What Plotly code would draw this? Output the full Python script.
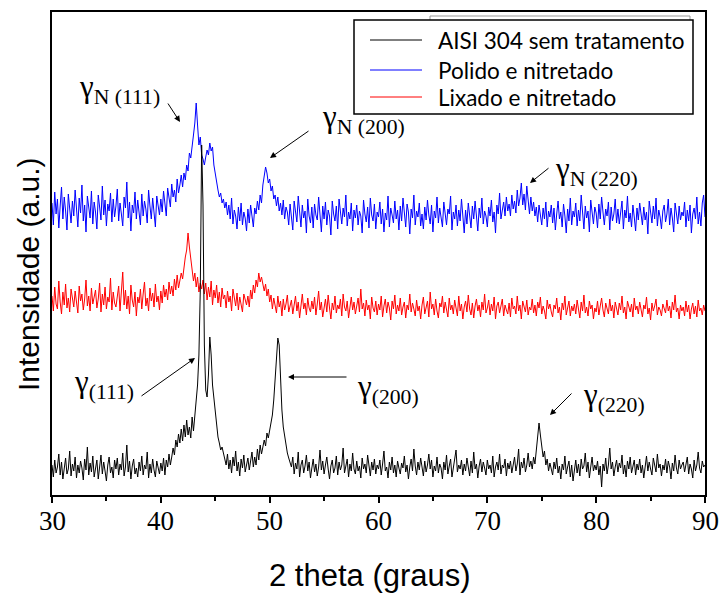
import numpy as np
import plotly.graph_objects as go

# ---------------- data ----------------
# sampling grid of the diffractograms (2 theta, degrees)
two_theta = np.round(np.arange(30, 90.0001, 0.125), 3)

series_names = ["AISI 304 sem tratamento", "Polido e nitretado", "Lixado e nitretado"]
series_colors = ["#000000", "#0000ff", "#ff0000"]

aisi_304 = [
    30, 18, 35, 22, 28, 41, 20, 33, 16, 29, 37, 21, 26, 44, 19, 31,
    24, 38, 17, 30, 22, 34, 27, 15, 36, 25, 48, 20, 32, 23, 39, 18,
    29, 35, 16, 27, 40, 21, 33, 24, 14, 30, 38, 22, 28, 17, 35, 26,
    37, 20, 31, 25, 42, 19, 28, 50, 23, 34, 16, 29, 36, 21, 27, 18,
    33, 24, 39, 20, 30, 26, 43, 17, 31, 22, 36, 25, 18, 34, 28, 21,
    32, 24, 37, 20, 35, 28, 41, 30, 38, 47, 40, 55, 48, 61, 52, 66,
    54, 70, 58, 75, 60, 68, 57, 78, 64, 82, 95, 110, 140, 205, 350, 290,
    150, 105, 98, 120, 158, 140, 110, 95, 80, 70, 58, 52, 45, 48, 40, 36,
    30, 41, 26, 35, 22, 38, 29, 44, 24, 33, 19, 36, 27, 40, 23, 31,
    37, 25, 34, 43, 28, 38, 30, 46, 35, 50, 41, 47, 55, 49, 62, 57,
    66, 72, 80, 95, 115, 140, 157, 150, 110, 85, 68, 58, 48, 42, 37, 33,
    28, 38, 21, 32, 26, 43, 18, 30, 35, 22, 29, 40, 24, 33, 17, 27,
    36, 23, 31, 19, 28, 45, 25, 34, 21, 30, 38, 26, 16, 29, 35, 22,
    27, 39, 20, 33, 25, 30, 47, 22, 28, 36, 18, 31, 24, 42, 26, 21,
    34, 24, 29, 17, 37, 26, 31, 22, 40, 28, 19, 33, 25, 36, 21, 30,
    26, 35, 20, 31, 44, 24, 28, 17, 33, 25, 38, 22, 30, 18, 34, 27,
    21, 32, 27, 39, 23, 30, 16, 28, 36, 24, 46, 29, 20, 33, 25, 37,
    28, 19, 34, 23, 30, 41, 26, 35, 18, 29, 24, 38, 22, 31, 27, 16,
    33, 25, 40, 21, 29, 36, 18, 27, 32, 45, 23, 30, 26, 35, 20, 31,
    24, 37, 28, 19, 34, 22, 43, 26, 31, 17, 29, 36, 23, 33, 27, 20,
    35, 26, 30, 22, 39, 18, 28, 33, 25, 41, 21, 30, 27, 36, 19, 32,
    26, 34, 22, 29, 38, 24, 31, 46, 20, 33, 27, 37, 23, 30, 42, 28,
    34, 26, 38, 31, 44, 62, 72, 60, 46, 38, 44, 30, 36, 24, 32, 27,
    20, 33, 26, 37, 22, 29, 16, 31, 25, 39, 21, 28, 34, 18, 30, 14,
    27, 35, 22, 31, 19, 36, 26, 29, 42, 23, 33, 17, 28, 38, 24, 30,
    25, 34, 20, 29, 8, 31, 24, 37, 21, 30, 47, 26, 33, 19, 28, 35,
    23, 32, 27, 40, 21, 30, 18, 34, 26, 38, 22, 29, 35, 20, 31, 25,
    36, 22, 30, 17, 28, 39, 24, 33, 26, 20, 37, 29, 23, 41, 27, 31,
    19, 30, 25, 36, 22, 34, 28, 16, 32, 24, 40, 27, 21, 35, 26, 30,
    33, 23, 29, 38, 21, 31, 26, 17, 35, 24, 30, 43, 27, 22, 34, 28,
    30,
]

polido_nitretado = [
    292, 270, 303, 281, 296, 267, 289, 308, 276, 298, 284, 265, 301, 287, 272, 294,
    279, 305, 285, 268, 297, 282, 310, 274, 290, 263, 299, 286, 277, 304, 271, 293,
    283, 266, 300, 288, 275, 309, 280, 295, 269, 291, 284, 302, 273, 296, 278, 289,
    306, 274, 292, 281, 269, 298, 287, 313, 277, 293, 264, 290, 282, 303, 276, 295,
    285, 270, 301, 279, 294, 286, 272, 305, 289, 276, 297, 283, 268, 299, 291, 280,
    296, 283, 304, 290, 279, 307, 295, 288, 311, 298, 305, 293, 316, 302, 310, 320,
    308, 322, 315, 330, 324, 342, 337, 352, 360, 372, 392, 370, 350, 358, 340, 336,
    330, 338, 345, 340, 352, 344, 348, 330, 320, 312, 305, 298, 302, 292, 296, 287,
    293, 280, 290, 276, 297, 271, 285, 279, 266, 288, 274, 292, 270, 283, 277, 264,
    286, 272, 290, 279, 268, 287, 281, 294, 285, 300, 292, 310, 318, 328, 322, 312,
    316, 304, 309, 296, 300, 289, 298, 284, 292, 280, 295, 276, 288, 283, 270, 291,
    278, 265, 294, 281, 273, 299, 286, 268, 290, 277, 284, 262, 296, 279, 272, 288,
    267, 291, 280, 275, 298, 284, 263, 289, 276, 293, 270, 285, 279, 260, 294, 281,
    274, 289, 266, 296, 282, 271, 287, 278, 300, 269, 283, 276, 292, 264, 285, 277,
    290, 270, 284, 279, 262, 295, 281, 273, 288, 267, 297, 280, 274, 291, 266, 283,
    278, 293, 271, 286, 263, 282, 275, 299, 268, 287, 280, 272, 294, 276, 285, 265,
    289, 274, 297, 279, 268, 291, 283, 261, 286, 277, 300, 270, 284, 278, 292, 269,
    281, 266, 288, 275, 295, 280, 271, 290, 263, 284, 277, 298, 272, 287, 279, 268,
    293, 278, 270, 286, 281, 299, 265, 283, 276, 290, 269, 285, 274, 296, 279, 262,
    285, 271, 292, 280, 267, 289, 276, 294, 282, 264, 287, 277, 297, 271, 284, 279,
    268, 288, 279, 295, 273, 283, 262, 290, 281, 302, 276, 286, 293, 279, 298, 284,
    291, 279, 300, 286, 294, 282, 305, 289, 297, 312, 290, 301, 285, 309, 293, 281,
    298, 284, 293, 279, 288, 273, 290, 281, 270, 287, 276, 293, 268, 284, 278, 290,
    272, 287, 265, 281, 294, 276, 283, 268, 291, 279, 262, 286, 274, 297, 270, 284,
    278, 292, 269, 285, 274, 300, 280, 266, 289, 277, 284, 263, 295, 279, 271, 288,
    282, 267, 291, 276, 298, 283, 270, 286, 279, 293, 265, 288, 274, 281, 296, 272,
    286, 271, 280, 294, 266, 285, 277, 299, 273, 282, 268, 290, 278, 264, 287, 275,
    292, 279, 270, 288, 275, 283, 261, 294, 281, 272, 289, 276, 297, 269, 285, 278,
    266, 284, 290, 273, 281, 296, 270, 287, 277, 263, 292, 280, 271, 289, 275, 283,
    279, 293, 268, 285, 274, 290, 262, 281, 287, 276, 298, 271, 283, 269, 292, 300,
    278,
]

lixado_nitretado = [
    199, 184, 208, 191, 186, 214, 193, 181, 203, 190, 211, 187, 197, 183, 206, 195,
    188, 204, 192, 182, 209, 194, 201, 185, 196, 215, 189, 199, 184, 207, 191, 200,
    205, 187, 196, 212, 183, 201, 190, 208, 186, 198, 193, 217, 185, 203, 192, 188,
    197, 209, 184, 200, 223, 190, 205, 186, 199, 181, 210, 195, 188, 203, 179, 198,
    192, 206, 186, 201, 213, 189, 197, 184, 207, 194, 202, 188, 211, 193, 199, 185,
    204, 192, 210, 198, 206, 195, 213, 201, 209, 199, 216, 205, 220, 207, 214, 222,
    216, 230, 238, 245, 262, 248, 235, 226, 214, 222, 208, 218, 203, 212, 206, 215,
    201, 212, 195, 208, 198, 214, 190, 205, 197, 210, 192, 203, 188, 207, 196, 200,
    187, 204, 193, 199, 184, 206, 195, 189, 202, 185, 198, 192, 183, 201, 194, 190,
    199, 188, 205, 196, 210, 202, 215, 208, 222, 213, 218, 209, 204, 211, 199, 206,
    193, 200, 186, 197, 190, 182, 199, 188, 194, 179, 196, 185, 191, 200, 183, 189,
    195, 181, 190, 199, 184, 193, 177, 188, 201, 186, 192, 180, 197, 187, 183, 194,
    186, 198, 180, 191, 204, 185, 193, 178, 189, 196, 183, 200, 187, 176, 192, 185,
    199, 182, 190, 186, 196, 179, 201, 188, 184, 194, 177, 190, 198, 185, 193, 181,
    188, 197, 183, 206, 186, 192, 179, 195, 185, 190, 176, 198, 187, 183, 194, 180,
    191, 185, 199, 178, 189, 196, 182, 193, 187, 175, 194, 186, 200, 181, 190, 184,
    197, 180, 188, 193, 177, 190, 185, 201, 183, 192, 186, 179, 195, 184, 189, 176,
    190, 198, 181, 187, 194, 178, 203, 186, 191, 180, 196, 184, 177, 192, 188, 199,
    182, 193, 186, 178, 197, 185, 190, 181, 195, 187, 179, 199, 184, 191, 176, 188,
    194, 183, 200, 186, 180, 192, 177, 189, 196, 184, 190, 178, 193, 185, 201, 182,
    187, 195, 180, 191, 184, 198, 176, 189, 193, 182, 188, 196, 179, 190, 185, 181,
    192, 178, 197, 186, 189, 181, 199, 184, 190, 176, 194, 187, 183, 195, 180, 188,
    185, 196, 182, 190, 179, 193, 187, 198, 181, 189, 184, 176, 195, 186, 191, 183,
    178, 190, 186, 197, 182, 188, 175, 192, 185, 199, 180, 187, 194, 179, 189, 184,
    191, 181, 195, 186, 177, 193, 184, 200, 182, 188, 179, 194, 186, 190, 176, 187,
    183, 194, 180, 189, 197, 185, 178, 192, 186, 181, 196, 184, 190, 177, 193, 187,
    180, 192, 185, 199, 182, 188, 176, 194, 187, 183, 191, 178, 197, 185, 189, 181,
    193, 184, 178, 190, 186, 198, 181, 187, 175, 192, 184, 189, 196, 180, 188, 185,
    179, 191, 186, 182, 195, 184, 189, 177, 193, 185, 200, 183, 187, 176, 190, 184,
    188, 179, 194, 183, 190, 176, 186, 192, 181, 189, 178, 195, 184, 187, 180, 190,
    184,
]

x_ticks = [30, 40, 50, 60, 70, 80, 90]
x_tick_labels = ["30", "40", "50", "60", "70", "80", "90"]

peak_labels = ["γ<sub>N (111)</sub>", "γ<sub>N (200)</sub>", "γ<sub>N (220)</sub>",
               "γ<sub>(111)</sub>", "γ<sub>(200)</sub>", "γ<sub>(220)</sub>"]

# ---------------- layout geometry (pixels) ----------------
W, H = 721, 594
L, R, T, B = 52, 705, 12, 495
XMIN, XMAX = 30, 90
YMAX = B - T


def px_x(px):
    return XMIN + (px - L) * (XMAX - XMIN) / (R - L)


def px_y(py):
    return (B - py)


def pap_x(px):
    return (px - L) / (R - L)


def pap_y(py):
    return (B - py) / (B - T)


fig = go.Figure()
for name, col, vals in [(series_names[1], series_colors[1], polido_nitretado),
                        (series_names[2], series_colors[2], lixado_nitretado),
                        (series_names[0], series_colors[0], aisi_304)]:
    fig.add_trace(go.Scatter(x=two_theta, y=vals, mode="lines", name=name,
                             line=dict(color=col, width=1), showlegend=False))

serif = "Liberation Serif"
annotations = []
# peak labels: (left px, middle px)
label_pos = [(77, 89), (320, 119), (553, 171), (72, 384), (355, 389), (581, 397)]
for lab, (lx, ly) in zip(peak_labels, label_pos):
    annotations.append(dict(x=px_x(lx), y=px_y(ly), xref="x", yref="y", text=lab,
                            showarrow=False, xanchor="left", yanchor="middle",
                            font=dict(family=serif, size=31, color="black")))

# arrows: tail -> head (pixels)
arrows = [((167, 102), (180, 122)), ((310, 130), (270, 158)), ((550, 167), (530, 183)),
          ((140, 397), (195, 358)), ((348, 377), (288, 377)), ((573, 392), (550, 415))]
for (tx, ty), (hx, hy) in arrows:
    annotations.append(dict(x=px_x(hx), y=px_y(hy), ax=px_x(tx), ay=px_y(ty),
                            xref="x", yref="y", axref="x", ayref="y", text="",
                            showarrow=True, arrowhead=2, arrowsize=1.2, arrowwidth=1,
                            arrowcolor="black"))

# x tick labels (placed at the axis' tick values)
for tv, tl in zip(x_ticks, x_tick_labels):
    annotations.append(dict(x=tv, y=pap_y(521), xref="x", yref="paper", text=tl,
                            showarrow=False, xanchor="center", yanchor="middle",
                            font=dict(family=serif, size=27, color="black")))

# axis titles
annotations.append(dict(x=pap_x(370), y=pap_y(575), xref="paper", yref="paper",
                        text="2 theta (graus)", showarrow=False, xanchor="center",
                        yanchor="middle", font=dict(family="Liberation Sans", size=31, color="black")))
annotations.append(dict(x=pap_x(28), y=pap_y(275), xref="paper", yref="paper",
                        text="Intensidade (a.u.)", showarrow=False, textangle=-90,
                        xanchor="center", yanchor="middle",
                        font=dict(family="Liberation Sans", size=30, color="black")))

# legend box (drawn as shapes + text)
shapes = []
shapes.append(dict(type="rect", xref="paper", yref="paper", x0=pap_x(430), x1=pap_x(690),
                   y0=pap_y(100), y1=pap_y(16), line=dict(color="#999999", width=1),
                   fillcolor="white", layer="above"))
shapes.append(dict(type="rect", xref="paper", yref="paper", x0=pap_x(354), x1=pap_x(693),
                   y0=pap_y(114), y1=pap_y(20), line=dict(color="black", width=1.5),
                   fillcolor="white", layer="above"))
legend_rows = [40, 70, 97]
for name, col, ry in zip(series_names, series_colors, legend_rows):
    shapes.append(dict(type="line", xref="paper", yref="paper", x0=pap_x(370), x1=pap_x(422),
                       y0=pap_y(ry), y1=pap_y(ry), line=dict(color=col, width=1), layer="above"))
    annotations.append(dict(x=pap_x(436), y=pap_y(ry), xref="paper", yref="paper", text=name,
                            showarrow=False, xanchor="left", yanchor="middle",
                            font=dict(family="Lato", size=22.5, color="black")))

fig.update_layout(
    width=W, height=H,
    margin=dict(l=L, r=W - R, t=T, b=H - B, pad=0, autoexpand=False),
    paper_bgcolor="white", plot_bgcolor="white",
    annotations=annotations, shapes=shapes,
    xaxis=dict(range=[XMIN, XMAX], tickvals=x_ticks, showticklabels=False, automargin=False,
               ticks="outside", ticklen=6, tickwidth=1.5, tickcolor="black",
               minor=dict(dtick=5, ticks="outside", ticklen=4, tickwidth=1.5, tickcolor="black"),
               showline=True, linecolor="black", linewidth=1.5, mirror=True,
               showgrid=False, zeroline=False),
    yaxis=dict(range=[0, YMAX], showticklabels=False, ticks="", showline=True, automargin=False,
               linecolor="black", linewidth=1.5, mirror=True, showgrid=False, zeroline=False),
)

fig.write_html("out.html")
